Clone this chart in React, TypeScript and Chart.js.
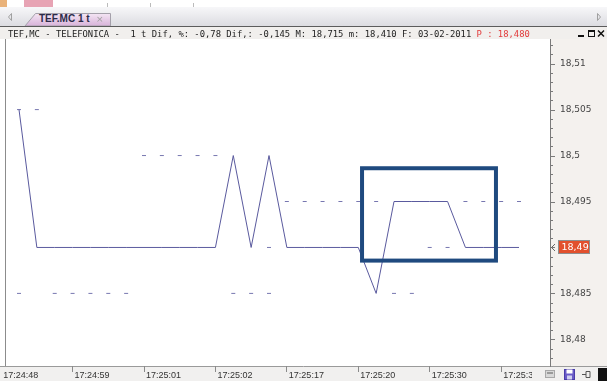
import React, { useEffect, useRef } from "react";
import { Chart, registerables } from "chart.js";

Chart.register(...registerables);

// ---- data ----
const priceLine = [
  18.505, 18.49, 18.49, 18.49, 18.49, 18.49, 18.49, 18.49, 18.49, 18.49,
  18.49, 18.49, 18.5, 18.49, 18.5, 18.49, 18.49, 18.49, 18.49, 18.49,
  18.485, 18.495, 18.495, 18.495, 18.495, 18.49, 18.49, 18.49, 18.49,
];
const dashUpper = [
  18.505, 18.505, null, null, null, null, null, 18.5, 18.5, 18.5,
  18.5, 18.5, null, null, 18.49, 18.495, 18.495, 18.495, 18.495, 18.495,
  18.495, null, null, 18.49, 18.49, 18.495, 18.495, 18.495, 18.495,
];
const dashLower = [
  18.485, null, 18.485, 18.485, 18.485, 18.485, 18.485, null, null, null,
  null, null, 18.485, 18.485, 18.485, null, null, null, null, null,
  null, 18.485, 18.485, null, null, null, null, null, null,
];
const xTickPositions = [-1, 3, 7, 11, 15, 19, 23, 27];
const xTickLabels = [
  "17:24:48", "17:24:59", "17:25:01", "17:25:02",
  "17:25:17", "17:25:20", "17:25:30", "17:25:35",
];
const yMajorTicks = [18.48, 18.485, 18.49, 18.495, 18.5, 18.505, 18.51];
const yTickLabels = ["18,48", "18,485", "18,49", "18,495", "18,5", "18,505", "18,51"];
// highlighted box (data coordinates)
const boxX = [19.21, 26.71];
const boxY = [18.48857, 18.49862];

const titleText =
  "TEF,MC - TELEFONICA -  1 t Dif, %: -0,78 Dif,: -0,145 M: 18,715 m: 18,410 F: 03-02-2011 ";
const titlePrice = "P : 18,480";

const X_MIN = -0.784;
const X_MAX = 29.736;
const Y_MIN = 18.4771;
const Y_MAX = 18.51264;

const majorIndex = (v: number) =>
  yMajorTicks.findIndex((m) => Math.abs(m - v) < 1e-7);

const fmtPrice = (v: number) => {
  let s = v.toFixed(3).replace(/0+$/, "").replace(/\.$/, "");
  return s.replace(".", ",");
};

const decorPlugin = {
  id: "decor",
  beforeDraw(chart: any) {
    const { ctx, chartArea: a, width, height } = chart;
    ctx.save();
    ctx.fillStyle = "#ffffff";
    ctx.fillRect(0, 0, a.right, a.bottom);
    ctx.fillStyle = "#f4f1ee";
    ctx.fillRect(a.right, 0, width - a.right, a.bottom);
    ctx.fillStyle = "#f1f0ef";
    ctx.fillRect(0, a.bottom, width, height - a.bottom);
    ctx.strokeStyle = "#8c8c8c";
    ctx.lineWidth = 1;
    ctx.beginPath();
    ctx.moveTo(Math.round(a.left) + 0.5, 0);
    ctx.lineTo(Math.round(a.left) + 0.5, a.bottom);
    ctx.stroke();
    ctx.strokeStyle = "#9a9a9a";
    ctx.beginPath();
    ctx.moveTo(0, Math.round(a.bottom) + 0.5);
    ctx.lineTo(width, Math.round(a.bottom) + 0.5);
    ctx.stroke();
    ctx.restore();
  },
  afterDraw(chart: any) {
    const { ctx, chartArea: a } = chart;
    const xs = chart.scales.x;
    const ys = chart.scales.y;
    ctx.save();
    // y tick marks (major 5px, minor 3px)
    ctx.strokeStyle = "#7a7a7a";
    ctx.lineWidth = 1;
    ys.ticks.forEach((t: any) => {
      const len = majorIndex(t.value) >= 0 ? 5 : 3;
      const py = Math.round(ys.getPixelForValue(t.value)) + 0.5;
      ctx.beginPath();
      ctx.moveTo(a.right, py);
      ctx.lineTo(a.right + len, py);
      ctx.stroke();
    });
    // highlight box
    const bx1 = xs.getPixelForValue(boxX[0]);
    const bx2 = xs.getPixelForValue(boxX[1]);
    const by1 = ys.getPixelForValue(boxY[1]);
    const by2 = ys.getPixelForValue(boxY[0]);
    ctx.strokeStyle = "#1f4a7f";
    ctx.lineWidth = 4;
    ctx.strokeRect(bx1, by1, bx2 - bx1, by2 - by1);
    // last price label
    const last = priceLine[priceLine.length - 1];
    const py = Math.round(ys.getPixelForValue(last));
    const lx = a.right + 8;
    ctx.fillStyle = "#e2502d";
    ctx.fillRect(lx, py - 7, 32, 14);
    ctx.strokeStyle = "#8e8e8e";
    ctx.lineWidth = 1;
    ctx.strokeRect(lx + 0.5, py - 6.5, 31, 13);
    ctx.fillStyle = "#ffffff";
    ctx.font = "9.5px 'DejaVu Sans'";
    ctx.textBaseline = "middle";
    ctx.textAlign = "left";
    ctx.fillText(fmtPrice(last), lx + 3.5, py + 0.5);
    ctx.strokeStyle = "#666";
    ctx.beginPath();
    ctx.moveTo(a.right + 5, py - 3);
    ctx.lineTo(a.right + 1.5, py + 0.5);
    ctx.lineTo(a.right + 5, py + 4);
    ctx.stroke();
    ctx.restore();
  },
};

export default function App() {
  const ref = useRef<HTMLCanvasElement | null>(null);

  useEffect(() => {
    if (!ref.current) return;
    const chart = new Chart(ref.current, {
      type: "line",
      data: {
        datasets: [
          {
            data: priceLine.map((y, i) => ({ x: i, y })),
            borderColor: "#5a5a9e",
            borderWidth: 1,
            pointRadius: 0,
            tension: 0,
            fill: false,
          },
          {
            data: dashUpper.map((y, i) => ({ x: i, y })),
            showLine: false,
            pointStyle: "line",
            pointRadius: 2,
            pointBorderWidth: 1,
            pointBorderColor: "#7777b0",
            pointBackgroundColor: "#7777b0",
          },
          {
            data: dashLower.map((y, i) => ({ x: i, y })),
            showLine: false,
            pointStyle: "line",
            pointRadius: 2,
            pointBorderWidth: 1,
            pointBorderColor: "#7777b0",
            pointBackgroundColor: "#7777b0",
          },
        ],
      } as any,
      options: {
        animation: false,
        responsive: false,
        maintainAspectRatio: false,
        layout: { padding: { left: 5, right: 0, top: 0, bottom: 0 } },
        plugins: { legend: { display: false }, tooltip: { enabled: false } },
        scales: {
          x: {
            type: "linear",
            position: "bottom",
            min: X_MIN,
            max: X_MAX,
            afterBuildTicks: (s: any) => {
              s.ticks = xTickPositions.map((v) => ({ value: v }));
            },
            afterFit: (s: any) => {
              s.height = 15;
              s.paddingLeft = 0;
              s.paddingRight = 0;
              s.paddingTop = 0;
              s.paddingBottom = 0;
            },
            ticks: {
              autoSkip: false,
              maxRotation: 0,
              minRotation: 0,
              align: "start",
              labelOffset: 2,
              padding: -2,
              font: { family: "Liberation Sans", size: 9 },
              color: "#333",
              callback: (_v: any, i: number) => xTickLabels[i],
            },
            grid: {
              drawOnChartArea: false,
              drawTicks: true,
              tickLength: 6,
              tickColor: (c: any) => (c.index === 0 ? "rgba(0,0,0,0)" : "#8a8a8a"),
            },
            border: { display: false },
          },
          y: {
            type: "linear",
            position: "right",
            min: Y_MIN,
            max: Y_MAX,
            afterBuildTicks: (s: any) => {
              const t: any[] = [];
              for (let i = 18478; i <= 18512; i++) t.push({ value: i / 1000 });
              s.ticks = t;
            },
            afterFit: (s: any) => {
              s.width = 57;
            },
            ticks: {
              autoSkip: false,
              padding: 0,
              font: { family: "DejaVu Sans", size: 9 },
              color: "#444",
              callback: (v: any) => {
                const k = majorIndex(Number(v));
                return k >= 0 ? yTickLabels[k] : "";
              },
            },
            grid: {
              drawOnChartArea: false,
              tickLength: 10,
              tickColor: "rgba(0,0,0,0)",
            },
            border: { display: true, color: "#7a7a7a" },
          },
        },
      } as any,
      plugins: [decorPlugin],
    });
    return () => chart.destroy();
  }, []);

  return (
    <div
      style={{
        position: "absolute",
        left: 0,
        top: 0,
        width: 607,
        height: 381,
        overflow: "hidden",
        background: "#fff",
      }}
    >
      {/* chart (its area starts 5px below the canvas top, under the title row) */}
      <canvas
        ref={ref}
        width={607}
        height={347}
        style={{ position: "absolute", left: 0, top: 34, width: 607, height: 347 }}
      />
      {/* top strip */}
      <div style={{ position: "absolute", left: 0, top: 0, width: 607, height: 7, background: "#fff" }}>
        <div style={{ position: "absolute", left: 0, top: 0, width: 7, height: 7, background: "#e9b27a" }} />
        <div style={{ position: "absolute", left: 24, top: 0, width: 29, height: 7, background: "#e7a3b4" }} />
        <div style={{ position: "absolute", left: 107, top: 3, width: 1, height: 4, background: "#bbb" }} />
        <div style={{ position: "absolute", left: 150, top: 3, width: 1, height: 4, background: "#bbb" }} />
        <div style={{ position: "absolute", left: 193, top: 3, width: 1, height: 4, background: "#bbb" }} />
      </div>
      {/* tab row */}
      <div
        style={{
          position: "absolute",
          left: 0,
          top: 7,
          width: 607,
          height: 19,
          background: "linear-gradient(#f7f7f9, #dcdce1)",
        }}
      >
        <svg width={607} height={19} style={{ position: "absolute", left: 0, top: 0 }}>
          <defs>
            <linearGradient id="tabg" x1="0" y1="0" x2="0" y2="1">
              <stop offset="0" stopColor="#f4e6f4" />
              <stop offset="1" stopColor="#d8b2d9" />
            </linearGradient>
          </defs>
          <polygon points="11.5,6.5 8.5,10 11.5,13.5" fill="none" stroke="#a0a0a0" strokeWidth={1} />
          <polygon points="25,19 35.5,6.5 110.5,6.5 110.5,19" fill="url(#tabg)" stroke="#a4a0aa" strokeWidth={1} />
          <polygon points="597.5,6.5 600.5,10 597.5,13.5" fill="none" stroke="#a0a0a0" strokeWidth={1} />
        </svg>
        <span
          style={{
            position: "absolute",
            left: 39,
            top: 6,
            fontFamily: "'Liberation Sans'",
            fontWeight: "bold",
            fontSize: 10,
            lineHeight: "12px",
            color: "#2b2b48",
            whiteSpace: "pre",
          }}
        >
          TEF.MC 1 t
        </span>
        <span
          style={{
            position: "absolute",
            left: 96,
            top: 6,
            fontFamily: "'DejaVu Sans'",
            fontSize: 9,
            lineHeight: "12px",
            color: "#a0a0a0",
          }}
        >
          ×
        </span>
      </div>
      {/* title row */}
      <div
        style={{
          position: "absolute",
          left: 0,
          top: 26,
          width: 607,
          height: 13,
          background: "#f1efed",
          borderTop: "1px solid #5c5c5c",
          boxSizing: "border-box",
        }}
      />
      <div
        style={{
          position: "absolute",
          left: 8,
          top: 28.5,
          fontFamily: "'DejaVu Sans Mono'",
          fontSize: 8.86,
          color: "#222",
          whiteSpace: "pre",
          lineHeight: "normal",
        }}
      >
        {titleText}
        <span style={{ color: "#e23b3b" }}>{titlePrice}</span>
      </div>
      <svg width={32} height={10} style={{ position: "absolute", left: 575, top: 28 }}>
        <rect x={3} y={7} width={6} height={2} fill="#111" />
        <rect x={13.5} y={2.5} width={6} height={6} fill="none" stroke="#111" strokeWidth={1} />
        <rect x={13} y={2} width={7} height={2} fill="#111" />
        <path d="M23,2.5 L29,8.5 M29,2.5 L23,8.5" stroke="#111" strokeWidth={1.5} />
      </svg>
      {/* bottom-right icons (cover the clipped end of the last time label) */}
      <div
        style={{
          position: "absolute",
          left: 532,
          top: 367,
          width: 75,
          height: 14,
          background: "#f1f0ef",
        }}
      >
        <svg width={75} height={14} style={{ position: "absolute", left: 0, top: 0 }}>
          <rect x={13.5} y={3.5} width={9} height={7} fill="#d8d8d8" stroke="#a8a8a8" />
          <rect x={15} y={5} width={6} height={2} fill="#9a9a9a" />
          <rect x={32.5} y={2.5} width={10} height={10} fill="#6a5cc8" stroke="#4a3ca8" />
          <rect x={34.5} y={2.5} width={6} height={4} fill="#ffffff" />
          <rect x={35} y={8.5} width={5} height={4} fill="#d0d0f0" />
          <path d="M50,7.5 L54,7.5 M54,4.5 L54,10.5 M54,4.5 L58,4.5 L58,10.5 L54,10.5" stroke="#555" strokeWidth={1} fill="none" />
          <rect x={66} y={1} width={9} height={13} fill="#111" />
        </svg>
      </div>
    </div>
  );
}
